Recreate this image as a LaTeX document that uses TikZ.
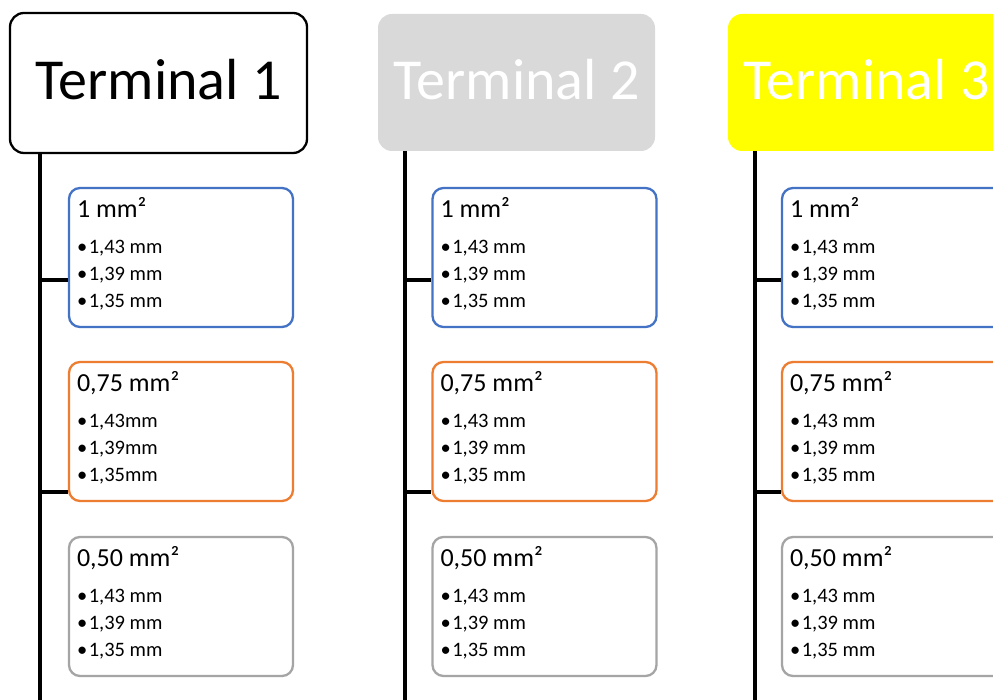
\documentclass[tikz,border=0pt]{standalone}
\usepackage{fontspec}
\setmainfont{Carlito}
\definecolor{cblue}{HTML}{4472C4}
\definecolor{corange}{HTML}{ED7D31}
\definecolor{cgray}{HTML}{A5A5A5}
\definecolor{tgray}{HTML}{D9D9D9}
\definecolor{tyellow}{HTML}{FFFF00}
\tikzset{
  termbox/.style={rounded corners=14pt, minimum height=137pt, inner sep=0pt,
     text height=40pt, text depth=6pt,
     font=\fontsize{58}{58}\selectfont},
  cellbox/.style={draw, rounded corners=11pt, line width=2.3pt, fill=white,
     minimum width=224pt, minimum height=139pt, inner sep=0pt},
  celltitle/.style={anchor=base west, inner sep=0pt, font=\fontsize{26}{26}\selectfont},
  cellitem/.style={anchor=base west, inner sep=0pt, font=\fontsize{20.5}{20.5}\selectfont},
  trunk/.style={line width=3.5pt},
}
\newcommand{\cell}[8]{%
  \node[cellbox, draw=#3] (#1) at (#2) {};
  \node[celltitle] (#1t) at ([xshift=9pt,yshift=-30.5pt]#1.north west) {#4};
  \node[cellitem] (#1a) at ([xshift=9pt,yshift=-66.5pt]#1.north west) {•\kern1.5pt#5};
  \node[cellitem] (#1b) at ([xshift=9pt,yshift=-93.5pt]#1.north west) {•\kern1.5pt#6};
  \node[cellitem] (#1c) at ([xshift=9pt,yshift=-120.5pt]#1.north west) {•\kern1.5pt#7};
}
\begin{document}
\begin{tikzpicture}[x=1pt,y=1pt]
\useasboundingbox (0,0) rectangle (993,700);
\clip (0,0) rectangle (993,700);
\fill[white] (0,0) rectangle (993,700);

% terminals
\node[termbox, draw=black, line width=2.3pt, fill=white, minimum width=297pt, minimum height=140pt] (t1) at (158.5,617) {Terminal 1};
\node[termbox, fill=tgray, text=white, minimum width=277pt] (t2) at (516.5,617.5) {Terminal 2};
\node[termbox, fill=tyellow, text=white, minimum width=277pt] (t3) at (866.5,617.5) {Terminal 3};

% trunk ends
\coordinate (e1) at (40,0);
\coordinate (e2) at (405,0);
\coordinate (e3) at (755,0);
\coordinate (j1a) at (40,420);  \coordinate (j1b) at (40,208);
\coordinate (j2a) at (405,420); \coordinate (j2b) at (405,208);
\coordinate (j3a) at (755,420); \coordinate (j3b) at (755,208);

\draw[trunk] (t1.south -| e1) -- (e1);
\draw[trunk] (t2.south -| e2) -- (e2);
\draw[trunk] (t3.south -| e3) -- (e3);

% column 1
\cell{c1a}{181,442.5}{cblue}{1 mm²}{1,43 mm}{1,39 mm}{1,35 mm}{}
\cell{c1b}{181,268.5}{corange}{0,75 mm²}{1,43mm}{1,39mm}{1,35mm}{}
\cell{c1c}{181,93.5}{cgray}{0,50 mm²}{1,43 mm}{1,39 mm}{1,35 mm}{}
% column 2
\cell{c2a}{544.5,442.5}{cblue}{1 mm²}{1,43 mm}{1,39 mm}{1,35 mm}{}
\cell{c2b}{544.5,268.5}{corange}{0,75 mm²}{1,43 mm}{1,39 mm}{1,35 mm}{}
\cell{c2c}{544.5,93.5}{cgray}{0,50 mm²}{1,43 mm}{1,39 mm}{1,35 mm}{}
% column 3
\cell{c3a}{894,442.5}{cblue}{1 mm²}{1,43 mm}{1,39 mm}{1,35 mm}{}
\cell{c3b}{894,268.5}{corange}{0,75 mm²}{1,43 mm}{1,39 mm}{1,35 mm}{}
\cell{c3c}{894,93.5}{cgray}{0,50 mm²}{1,43 mm}{1,39 mm}{1,35 mm}{}

% branches
\draw[trunk] (j1a) -- (c1a.west |- j1a);
\draw[trunk] (j1b) -- (c1b.west |- j1b);
\draw[trunk] (j2a) -- (c2a.west |- j2a);
\draw[trunk] (j2b) -- (c2b.west |- j2b);
\draw[trunk] (j3a) -- (c3a.west |- j3a);
\draw[trunk] (j3b) -- (c3b.west |- j3b);
\end{tikzpicture}
\end{document}
